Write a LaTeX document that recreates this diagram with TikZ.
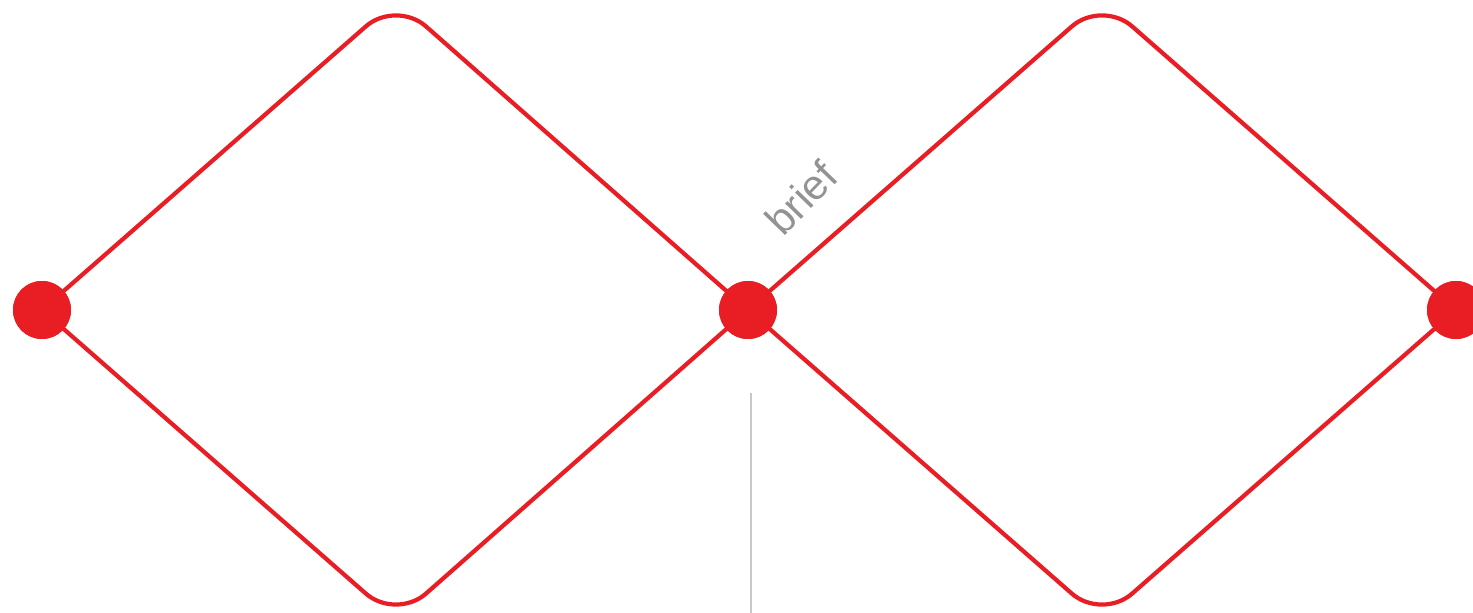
\documentclass[tikz,border=0pt]{standalone}
\usepackage{fontspec}
\setsansfont{Liberation Sans}
\definecolor{dred}{RGB}{232,30,36}
\definecolor{lgray}{RGB}{200,200,200}
\begin{document}
\begin{tikzpicture}[x=0.5pt,y=-0.5pt,
  edge/.style={draw=dred,line width=2.1pt,rounded corners=20pt},
  dot/.style={circle,fill=dred,inner sep=0pt,minimum size=29pt},
  lbl/.style={font=\sffamily\fontsize{21}{21}\selectfont,text=gray!85,rotate=46}]
\useasboundingbox (0,0) rectangle (1473,613);
\coordinate (t1) at (396,0);
\coordinate (b1) at (396,620);
\coordinate (t2) at (1102,0);
\coordinate (b2) at (1102,620);
\node[dot] (d1) at (42,310) {};
\node[dot] (d2) at (748,310) {};
\node[dot] (d3) at (1456,310) {};
\draw[edge] (d1.center) -- (t1) -- (d2.center);
\draw[edge] (d1.center) -- (b1) -- (d2.center);
\draw[edge] (d2.center) -- (t2) -- (d3.center);
\draw[edge] (d2.center) -- (b2) -- (d3.center);
\node[dot] at (d1) {};
\node[dot] at (d2) {};
\node[dot] at (d3) {};
\node[lbl] (brief) at (801,198) {brief};
\coordinate (g1) at (751,393);
\coordinate (g2) at (751,613);
\draw[lgray,line width=0.8pt] (g1) -- (g2);
\end{tikzpicture}
\end{document}
